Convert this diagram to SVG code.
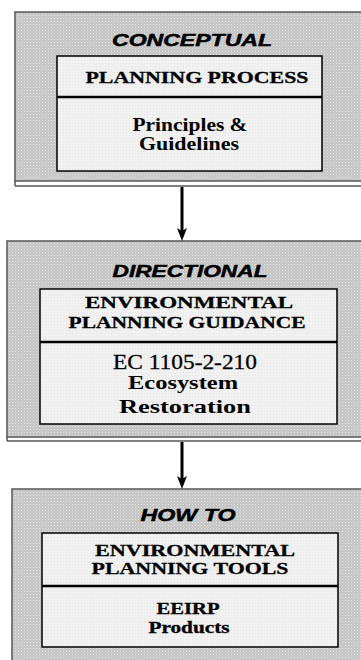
<svg xmlns="http://www.w3.org/2000/svg" width="361" height="660" viewBox="0 0 361 660">
<defs>
<pattern id="dots" width="3" height="3" patternUnits="userSpaceOnUse">
<rect width="3" height="3" fill="#c4c4c4"/>
<rect width="1" height="1" fill="#e6e6e6"/>
<rect x="1.5" y="1.5" width="1" height="1" fill="#dadada"/>
</pattern>
<pattern id="lite" width="3" height="3" patternUnits="userSpaceOnUse">
<rect width="3" height="3" fill="#f1f1f1"/>
<rect width="1" height="1" fill="#e4e4e4"/>
</pattern>
</defs>
<style>
.outer{fill:url(#dots);stroke:#555;stroke-width:1.5}
.inner{fill:url(#lite);stroke:#000;stroke-width:1.5}
.div{stroke:#000;stroke-width:2.5}
.base{stroke:#555;stroke-width:1.5}
.ttl{font-family:"Liberation Sans",Arial,sans-serif;font-weight:bold;font-style:italic;font-size:17px;fill:#000;stroke:#000;stroke-width:0.5;text-anchor:middle}
.hd{font-family:"Liberation Serif","Times New Roman",serif;font-weight:bold;font-size:16.5px;fill:#000;stroke:#000;stroke-width:0.3;text-anchor:middle}
.bd{font-family:"Liberation Serif","Times New Roman",serif;font-weight:bold;font-size:18px;fill:#000;text-anchor:middle}
.sm{font-size:16px;stroke:#000;stroke-width:0.3}
.rg{font-family:"Liberation Serif","Times New Roman",serif;font-size:21px;fill:#000;stroke:#000;stroke-width:0.3;text-anchor:middle}
.cn{stroke:#000;stroke-width:3;fill:none}
.ah{fill:#000}
</style>
<rect width="361" height="660" fill="#fff"/>
<g id="conceptual">
<rect class="outer" x="15" y="12" width="360" height="169"/>
<line class="base" x1="15" y1="186" x2="361" y2="186"/>
<line class="base" x1="15" y1="181" x2="15" y2="186"/>
<text class="ttl" x="192" y="46" textLength="160" lengthAdjust="spacingAndGlyphs">CONCEPTUAL</text>
<rect class="inner" x="57" y="56" width="265" height="115"/>
<line class="div" x1="57" y1="97" x2="322" y2="97"/>
<text class="hd" x="197" y="83" textLength="223" lengthAdjust="spacingAndGlyphs">PLANNING PROCESS</text>
<text class="bd" x="190" y="131" textLength="115" lengthAdjust="spacingAndGlyphs">Principles &amp;</text>
<text class="bd" x="189" y="150" textLength="100" lengthAdjust="spacingAndGlyphs">Guidelines</text>
</g>
<g id="directional">
<rect class="outer" x="7" y="241" width="360" height="196"/>
<line class="base" x1="7" y1="441" x2="361" y2="441"/>
<line class="base" x1="7" y1="437" x2="7" y2="441"/>
<text class="ttl" x="190" y="277" textLength="155" lengthAdjust="spacingAndGlyphs">DIRECTIONAL</text>
<rect class="inner" x="40" y="289" width="297" height="135"/>
<line class="div" x1="40" y1="342" x2="337" y2="342"/>
<text class="hd" x="189" y="308" textLength="208" lengthAdjust="spacingAndGlyphs">ENVIRONMENTAL</text>
<text class="hd" x="187" y="328" textLength="237" lengthAdjust="spacingAndGlyphs">PLANNING GUIDANCE</text>
<text class="rg" x="185" y="369" textLength="144" lengthAdjust="spacingAndGlyphs">EC 1105-2-210</text>
<text class="bd" x="183" y="389" textLength="110" lengthAdjust="spacingAndGlyphs">Ecosystem</text>
<text class="bd" x="185" y="413" textLength="132" lengthAdjust="spacingAndGlyphs">Restoration</text>
</g>
<g id="howto">
<rect class="outer" x="12" y="489" width="360" height="180"/>
<text class="ttl" x="188" y="521" textLength="95" lengthAdjust="spacingAndGlyphs">HOW TO</text>
<rect class="inner" x="42" y="533" width="296" height="114"/>
<line class="div" x1="42" y1="586" x2="338" y2="586"/>
<text class="hd" x="195" y="556" textLength="200" lengthAdjust="spacingAndGlyphs">ENVIRONMENTAL</text>
<text class="hd" x="190" y="574" textLength="197" lengthAdjust="spacingAndGlyphs">PLANNING TOOLS</text>
<text class="bd sm" x="188" y="614" textLength="63" lengthAdjust="spacingAndGlyphs">EEIRP</text>
<text class="bd sm" x="189" y="633" textLength="81" lengthAdjust="spacingAndGlyphs">Products</text>
</g>
<g id="connectors">
<line class="cn" x1="182" y1="187" x2="182" y2="232"/>
<path class="ah" d="M177,228 L182,231 L187,228 L182,241 Z"/>
<line class="cn" x1="182" y1="442" x2="182" y2="480"/>
<path class="ah" d="M177,476 L182,479 L187,476 L182,489 Z"/>
</g>
</svg>
